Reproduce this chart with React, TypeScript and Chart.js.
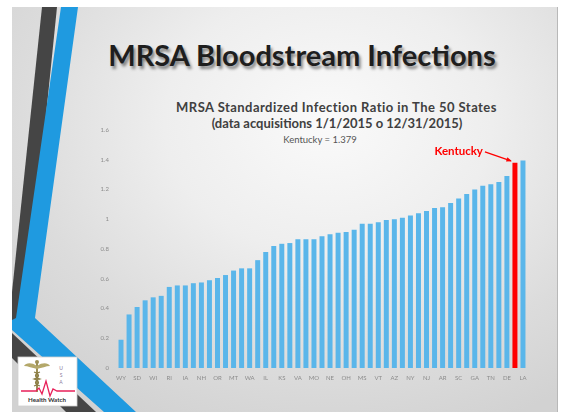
import React, { useEffect, useRef } from "react";
import { Chart, registerables } from "chart.js";
Chart.register(...registerables);

// Categories (only every other label is legible in the source; KY is the highlighted bar)
const states = [
  "WY", "", "SD", "", "WI", "", "RI", "", "IA", "", "NH", "", "OR", "", "MT", "", "WA", "",
  "IL", "", "KS", "", "VA", "", "MO", "", "NE", "", "OH", "", "MS", "", "VT", "", "AZ", "",
  "NY", "", "NJ", "", "AR", "", "SC", "", "GA", "", "TN", "", "DE", "KY", "LA",
];
// MRSA standardized infection ratio per state
const ratios = [
  0.19, 0.36, 0.41, 0.455, 0.475, 0.485, 0.545, 0.555, 0.555, 0.57,
  0.575, 0.59, 0.605, 0.625, 0.655, 0.67, 0.67, 0.725, 0.78, 0.82,
  0.835, 0.84, 0.865, 0.865, 0.865, 0.885, 0.9, 0.91, 0.915, 0.93,
  0.97, 0.97, 0.98, 0.995, 1.0, 1.01, 1.025, 1.04, 1.055, 1.075,
  1.08, 1.11, 1.14, 1.17, 1.2, 1.225, 1.235, 1.25, 1.29, 1.379, 1.395,
];
const yMin = 0;
const yMax = 1.6;
const yStep = 0.2;
const highlightState = "KY";
const highlightLabel = "Kentucky";

const mainTitle = "MRSA Bloodstream Infections";
const chartTitle1 = "MRSA Standardized Infection Ratio in The 50 States";
const chartTitle2 = "(data acquisitions 1/1/2015 o 12/31/2015)";
const chartSubtitle = "Kentucky = 1.379";

const BLUE = "#5ab6ea";
const RED = "#ff0000";

const annotationPlugin = {
  id: "kyAnnotation",
  afterDatasetsDraw(chart: any) {
    const idx = states.indexOf(highlightState);
    const bar = chart.getDatasetMeta(0).data[idx];
    if (!bar) return;
    const ctx = chart.ctx;
    const tipX = bar.x - 4;
    const tipY = bar.y - 2;
    const textRight = bar.x - 32;
    const textY = bar.y - 12;
    ctx.save();
    ctx.font = "bold 11.5px Lato";
    ctx.fillStyle = RED;
    ctx.textAlign = "right";
    ctx.textBaseline = "middle";
    ctx.fillText(highlightLabel, textRight, textY);
    const sx = textRight + 2;
    const sy = textY + 1;
    ctx.strokeStyle = RED;
    ctx.lineWidth = 1.3;
    ctx.beginPath();
    ctx.moveTo(sx, sy);
    ctx.lineTo(tipX, tipY);
    ctx.stroke();
    const ang = Math.atan2(tipY - sy, tipX - sx);
    const ah = 5;
    ctx.beginPath();
    ctx.moveTo(tipX + 1, tipY + 0.3);
    ctx.lineTo(tipX - ah * Math.cos(ang - 0.45), tipY - ah * Math.sin(ang - 0.45));
    ctx.lineTo(tipX - ah * Math.cos(ang + 0.45), tipY - ah * Math.sin(ang + 0.45));
    ctx.closePath();
    ctx.fillStyle = RED;
    ctx.fill();
    ctx.restore();
  },
};

function ChartCanvas() {
  const ref = useRef<HTMLCanvasElement | null>(null);
  useEffect(() => {
    if (!ref.current) return;
    const chart = new Chart(ref.current, {
      type: "bar",
      data: {
        labels: states,
        datasets: [
          {
            data: ratios,
            backgroundColor: states.map((s) => (s === highlightState ? RED : BLUE)),
            borderWidth: 0,
            barPercentage: 0.62,
            categoryPercentage: 1,
          },
        ],
      },
      options: {
        responsive: false,
        animation: false,
        devicePixelRatio: 1,
        layout: { padding: { left: 87, right: 35, top: 130, bottom: 24 } },
        plugins: { legend: { display: false }, tooltip: { enabled: false }, title: { display: false } },
        scales: {
          x: {
            grid: { display: false, drawTicks: false },
            border: { display: false },
            ticks: {
              autoSkip: false,
              maxRotation: 0,
              minRotation: 0,
              padding: 6,
              color: "#8c8c8c",
              font: { size: 6, family: "Lato" },
              callback: (_v: any, i: number) => (i % 2 === 0 ? states[i] : ""),
            },
            afterFit: (s: any) => {
              s.height = 20;
            },
          },
          y: {
            min: yMin,
            max: yMax,
            grid: { display: false, drawTicks: false },
            border: { display: false },
            ticks: {
              stepSize: yStep,
              padding: 8,
              color: "#8c8c8c",
              font: { size: 6, family: "Lato" },
              callback: (v: any) => String(Number(Number(v).toFixed(1))),
            },
            afterFit: (s: any) => {
              s.width = 30;
            },
          },
        },
      },
      plugins: [annotationPlugin],
    });
    return () => chart.destroy();
  }, []);
  return (
    <canvas
      ref={ref}
      width={562}
      height={412}
      style={{ position: "absolute", left: 0, top: 0, width: 562, height: 412 }}
    />
  );
}

function Logo() {
  return (
    <svg
      width={562}
      height={412}
      style={{ position: "absolute", left: 0, top: 0 }}
    >
      <rect x={18} y={357} width={59} height={49} fill="#ffffff" stroke="#d0d0d0" strokeWidth={0.8} />
      {/* caduceus */}
      <line x1={37} y1={362} x2={37} y2={392} stroke="#9c8f55" strokeWidth={2} />
      <circle cx={37} cy={362} r={2} fill="#9c8f55" />
      <path d="M37 366 C31 362 26 363 24 366 C28 366 32 368 37 369 Z" fill="#b4a86a" />
      <path d="M37 366 C43 362 48 363 50 366 C46 366 42 368 37 369 Z" fill="#b4a86a" />
      <path d="M34 372 C40 374 40 377 34 379 C40 381 40 384 34 386" fill="none" stroke="#8a7d45" strokeWidth={1.2} />
      <path d="M40 372 C34 374 34 377 40 379 C34 381 34 384 40 386" fill="none" stroke="#8a7d45" strokeWidth={1.2} />
      <text x={61} y={370} fontSize={5} fontFamily="Lato" fill="#8a7a9a" textAnchor="middle">U</text>
      <text x={61} y={377} fontSize={5} fontFamily="Lato" fill="#8a7a9a" textAnchor="middle">S</text>
      <text x={61} y={384} fontSize={5} fontFamily="Lato" fill="#8a7a9a" textAnchor="middle">A</text>
      <polyline
        points="21,391 36,391 39,388 42,394 46,381 50,396 53,389 57,391 75,391"
        fill="none"
        stroke="#e8215a"
        strokeWidth={1.3}
      />
      <text x={47} y={402} fontSize={6.2} fontFamily="Lato" fontWeight={700} fill="#333" textAnchor="middle">
        Health Watch
      </text>
    </svg>
  );
}

function Decorations() {
  return (
    <svg width={562} height={412} style={{ position: "absolute", left: 0, top: 0 }}>
      <polygon points="42,7 57,7 25,322 12,322 12,292" fill="#454545" />
      <polygon points="12,333 12,358 66,412 96,412" fill="#454545" />
      <polygon points="61,7 78,7 35,318 136,412 104,412 12,330 12,320 16,318" fill="#1f9ae0" />
    </svg>
  );
}

export default function App() {
  const line = (text: string, cx: number, cy: number, size: number, weight: number, color: string, extra: any = {}) => (
    <div
      style={{
        position: "absolute",
        left: cx - 300,
        width: 600,
        top: cy - 10,
        height: 20,
        lineHeight: "20px",
        textAlign: "center",
        fontFamily: "Lato, sans-serif",
        fontSize: size,
        fontWeight: weight,
        color,
        whiteSpace: "nowrap",
        ...extra,
      }}
    >
      {text}
    </div>
  );
  return (
    <div
      style={{
        position: "fixed",
        left: 0,
        top: 0,
        width: 562,
        height: 412,
        background: "#ffffff",
        overflow: "hidden",
      }}
    >
      <div
        style={{
          position: "absolute",
          left: 12,
          top: 7,
          width: 545,
          height: 410,
          background:
            "radial-gradient(ellipse 75% 80% at 58% 28%, #fafafa 0%, #eeeeee 40%, #dcdcdc 75%, #d2d2d2 100%)",
          borderRight: "1px solid #b8b8b8",
        }}
      />
      <Decorations />
      {line(mainTitle, 302, 55, 29, 700, "#1e1e1e", {
        textShadow: "2px 3px 3px rgba(0,0,0,0.45)",
        height: 34,
        top: 38,
        lineHeight: "34px",
      })}
      {line(chartTitle1, 336.5, 107, 13, 700, "#404040", { letterSpacing: "0.45px" })}
      {line(chartTitle2, 337, 123, 13, 700, "#404040")}
      {line(chartSubtitle, 320, 140, 9.5, 400, "#555555")}
      <ChartCanvas />
      <Logo />
    </div>
  );
}
